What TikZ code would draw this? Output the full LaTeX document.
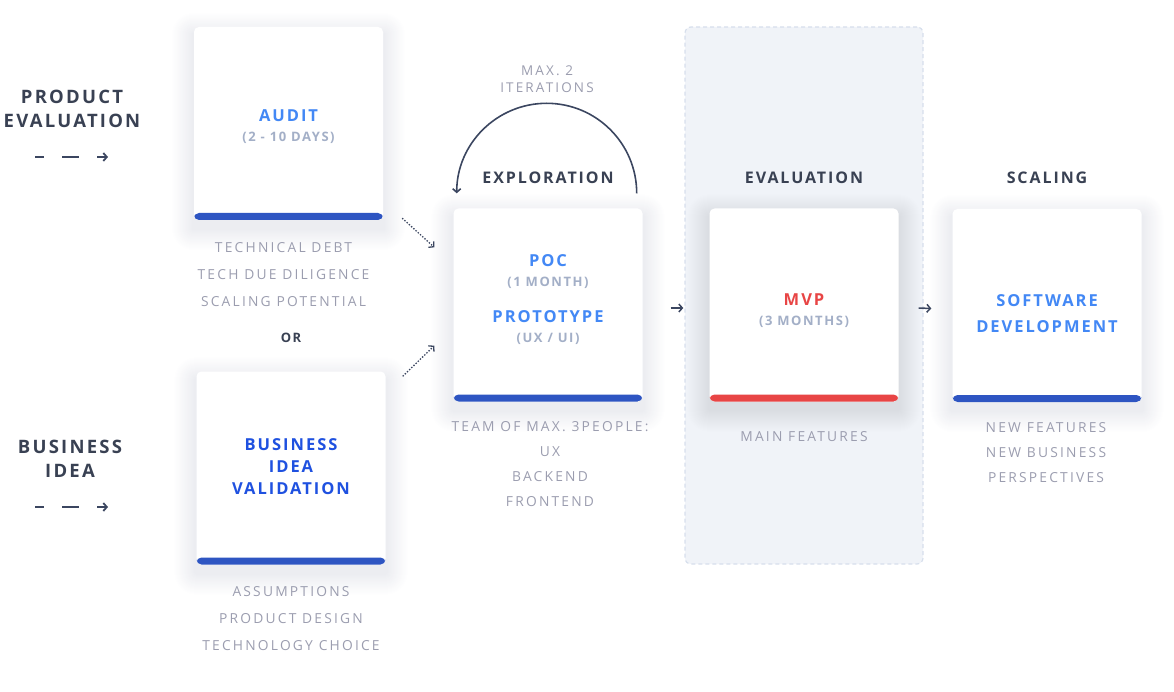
\documentclass[tikz,border=0pt]{standalone}
\usepackage{fontspec}
\setmainfont{Open Sans}
\newfontfamily\headfont[LetterSpace=12]{Open Sans}
\newfontfamily\notefont[LetterSpace=16]{Open Sans}
\usepackage{tikz}
\usetikzlibrary{positioning,arrows.meta}
\pgfdeclarelayer{backdrop}
\pgfdeclarelayer{shade}
\pgfsetlayers{backdrop,shade,main}
\definecolor{inkdark}{HTML}{394153}
\definecolor{titleblue}{HTML}{4388F5}
\definecolor{bivblue}{HTML}{1F51E0}
\definecolor{barblue}{HTML}{2E55C2}
\definecolor{barred}{HTML}{E84545}
\definecolor{subgray}{HTML}{A3AFC7}
\definecolor{notegray}{HTML}{9B9DAF}
\definecolor{panelbg}{HTML}{F0F3F8}
\definecolor{paneldash}{HTML}{D7DFEC}
\definecolor{arrowink}{HTML}{3B4660}
\definecolor{shadowink}{HTML}{1E2A5A}
\newcommand\cardtitle{\headfont\bfseries\fontsize{16.5}{20}\selectfont}
\newcommand\cardsub{\headfont\bfseries\fontsize{13}{20}\selectfont\color{subgray}}
\tikzset{
  phasebox/.style={fill=white, rounded corners=5pt, minimum width=189pt,
    minimum height=193pt, inner sep=0pt,
    path picture={\fill[#1] (path picture bounding box.south west) rectangle
      ([yshift=7pt]path picture bounding box.south east);}},
  phasebox/.default=barblue
}
\tikzstyle{cardtext} = [align=center, inner sep=0pt, font=\cardtitle]
\tikzstyle{evalpanel} = [fill=panelbg, draw=paneldash, line width=1.2pt,
    dash pattern=on 4pt off 3pt, rounded corners=6pt,
    minimum width=238pt, minimum height=537pt]
\tikzstyle{sidehead} = [text=inkdark, align=center, inner sep=0pt,
    font=\headfont\bfseries\fontsize{18.5}{24}\selectfont]
\tikzstyle{phasehead} = [text=inkdark, inner sep=0pt,
    font=\headfont\bfseries\fontsize{16}{20}\selectfont]
\tikzstyle{notes} = [text=notegray, align=center, inner sep=0pt,
    font=\notefont\fontsize{13.8}{27}\selectfont]
\tikzstyle{flow} = [draw=arrowink, line width=1.5pt, -{Straight Barb[length=3.5pt,width=8pt]}]
\tikzstyle{dotflow} = [draw=arrowink, line width=1.3pt, dash pattern=on 1.4pt off 1.6pt,
    -{Straight Barb[length=3.5pt,width=8pt]}]
\tikzstyle{dashflow} = [draw=arrowink, line width=1.8pt,
    dash pattern=on 9pt off 18pt on 17pt off 18pt on 20pt,
    -{Straight Barb[length=3.5pt,width=8pt]}]

\begin{document}
\begin{tikzpicture}[x=1pt,y=-1pt]
\useasboundingbox (0,0) rectangle (1174,692);
% evaluation column
\begin{pgfonlayer}{backdrop}
\node[evalpanel] (panel) at (804,295.5) {};
\end{pgfonlayer}

% side headings
\node[sidehead] (prodhead) at (72,109) {PRODUCT\\EVALUATION};
\node[sidehead] (bizhead) at (70,459) {BUSINESS\\IDEA};
\coordinate (proddash) at ([shift={(-37,48)}]prodhead.center);
\coordinate (bizdash) at ([shift={(-35,48)}]bizhead.center);
\draw[dashflow] (proddash) -- ++(73,0);
\draw[dashflow] (bizdash) -- ++(73,0);

% cards
\node[phasebox] (audit) at (288.5,123.5) {};
\node[phasebox] (biv) at (291,468) {};
\node[phasebox] (poc) at (548,305) {};
\node[phasebox=barred] (mvp) at (804,305) {};
\node[phasebox] (swdev) at (1047,305.5) {};

% soft shadows under the cards
\begin{pgfonlayer}{shade}
\foreach \card in {audit,biv,poc,mvp,swdev}
  \foreach \r in {1,2,...,22}
    \fill[shadowink, opacity=0.0045, rounded corners=\r pt]
      ([shift={(-\r,-\r+8)}]\card.north west) rectangle ([shift={(\r,\r+8)}]\card.south east);
\end{pgfonlayer}

\node[cardtext] (audittext) at ([yshift=-3pt]audit.center) {{\color{titleblue}AUDIT}\\{\cardsub (2 - 10 DAYS)}};
\node[cardtext] (bivtext) at ([yshift=1pt]biv.center) {\color{bivblue}BUSINESS\\[2pt]\color{bivblue}IDEA\\[2pt]\color{bivblue}VALIDATION};
\node[cardtext] (poctext) at ([yshift=5pt]poc.center) {{\color{titleblue}POC}\\{\cardsub (1 MONTH)}\\[16pt]{\color{titleblue}PROTOTYPE}\\{\cardsub (UX / UI)}};
\node[cardtext] (mvptext) at ([yshift=-6pt]mvp.center) {{\color{barred}MVP}\\{\cardsub (3 MONTHS)}};
\node[cardtext] (swtext) at ([yshift=-8pt]swdev.center) {\color{titleblue}SOFTWARE\\[6pt]\color{titleblue}DEVELOPMENT};

% phase headings
\node[phasehead, above=24pt of poc, anchor=south] (explhead) {EXPLORATION};
\node[phasehead, above=24pt of mvp, anchor=south] (evalhead) {EVALUATION};
\node[phasehead, above=25pt of swdev, anchor=south] (scalehead) {SCALING};
\node[notes, font=\notefont\fontsize{13.5}{17}\selectfont] (iter) at (547,79.5) {MAX. 2\\ITERATIONS};

% notes under the cards
\node[notes, below=22pt of audit, xshift=-5pt, anchor=north] (auditnotes) {TECHNICAL DEBT\\TECH DUE DILIGENCE\\SCALING POTENTIAL};
\node[text=inkdark, inner sep=0pt, font=\headfont\bfseries\fontsize{13}{16}\selectfont] (or) at (291,338) {OR};
\node[notes, below=22pt of biv, anchor=north] (bivnotes) {ASSUMPTIONS\\PRODUCT DESIGN\\TECHNOLOGY CHOICE};
\node[notes, below=20pt of poc, xshift=2pt, anchor=north, font=\notefont\fontsize{13.8}{25}\selectfont] (pocnotes) {TEAM OF MAX. 3PEOPLE:\\UX\\BACKEND\\FRONTEND};
\node[notes, below=30pt of mvp, anchor=north] (mvpnotes) {MAIN FEATURES};
\node[notes, below=20pt of swdev, xshift=-1pt, anchor=north, font=\notefont\fontsize{13.8}{25}\selectfont] (swnotes) {NEW FEATURES\\NEW BUSINESS\\PERSPECTIVES};

% connectors
\draw[dotflow] ([shift={(19,-2)}]audit.south east) -- ([shift={(-19,39)}]poc.north west);
\draw[dotflow] ([shift={(17,5)}]biv.north east) -- ([shift={(-19,-56)}]poc.south west);
\draw[flow] ([shift={(28,3)}]poc.east) -- ([shift={(-26,3)}]mvp.west);
\draw[flow] ([shift={(20,3)}]mvp.east) -- ([shift={(-21,3)}]swdev.west);
\draw[flow, line width=1.6pt] ([shift={(-6,-15)}]poc.north east) arc[start angle=0, end angle=180, radius=90pt];
\end{tikzpicture}
\end{document}
